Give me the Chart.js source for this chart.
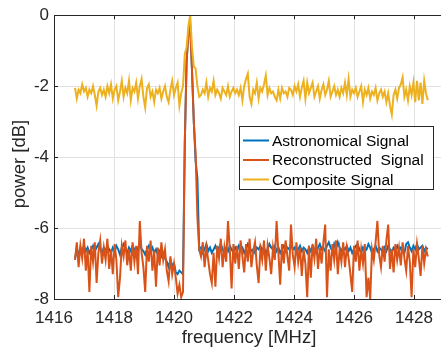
<!DOCTYPE html>
<html>
<head>
<meta charset="utf-8">
<script src="https://cdn.jsdelivr.net/npm/chart.js@4.4.1/dist/chart.umd.min.js"></script>
<style>
html, body { margin: 0; padding: 0; background: #fff; overflow: hidden; }
#wrap { width: 441px; height: 349px; overflow: hidden; }
canvas { display: block; }
</style>
</head>
<body>
<div id="wrap"><canvas id="chart-power" width="446" height="349"></canvas></div>
<script>
// Spectrum data
// -----------------------------------

var frequency = [
    1416.70, 1416.76, 1416.82, 1416.88, 1416.94, 1417.00, 1417.06, 1417.12, 1417.18, 1417.24,
    1417.30, 1417.36, 1417.42, 1417.48, 1417.54, 1417.60, 1417.66, 1417.72, 1417.78, 1417.84,
    1417.90, 1417.96, 1418.02, 1418.08, 1418.14, 1418.20, 1418.26, 1418.32, 1418.38, 1418.44,
    1418.50, 1418.56, 1418.62, 1418.68, 1418.74, 1418.80, 1418.86, 1418.92, 1418.98, 1419.04,
    1419.10, 1419.16, 1419.22, 1419.28, 1419.34, 1419.40, 1419.46, 1419.52, 1419.58, 1419.64,
    1419.70, 1419.76, 1419.82, 1419.88, 1419.94, 1420.00, 1420.06, 1420.12, 1420.18, 1420.24,
    1420.30, 1420.36, 1420.42, 1420.48, 1420.54, 1420.60, 1420.66, 1420.72, 1420.78, 1420.84,
    1420.90, 1420.96, 1421.02, 1421.08, 1421.14, 1421.20, 1421.26, 1421.32, 1421.38, 1421.44,
    1421.50, 1421.56, 1421.62, 1421.68, 1421.74, 1421.80, 1421.86, 1421.92, 1421.98, 1422.04,
    1422.10, 1422.16, 1422.22, 1422.28, 1422.34, 1422.40, 1422.46, 1422.52, 1422.58, 1422.64,
    1422.70, 1422.76, 1422.82, 1422.88, 1422.94, 1423.00, 1423.06, 1423.12, 1423.18, 1423.24,
    1423.30, 1423.36, 1423.42, 1423.48, 1423.54, 1423.60, 1423.66, 1423.72, 1423.78, 1423.84,
    1423.90, 1423.96, 1424.02, 1424.08, 1424.14, 1424.20, 1424.26, 1424.32, 1424.38, 1424.44,
    1424.50, 1424.56, 1424.62, 1424.68, 1424.74, 1424.80, 1424.86, 1424.92, 1424.98, 1425.04,
    1425.10, 1425.16, 1425.22, 1425.28, 1425.34, 1425.40, 1425.46, 1425.52, 1425.58, 1425.64,
    1425.70, 1425.76, 1425.82, 1425.88, 1425.94, 1426.00, 1426.06, 1426.12, 1426.18, 1426.24,
    1426.30, 1426.36, 1426.42, 1426.48, 1426.54, 1426.60, 1426.66, 1426.72, 1426.78, 1426.84,
    1426.90, 1426.96, 1427.02, 1427.08, 1427.14, 1427.20, 1427.26, 1427.32, 1427.38, 1427.44,
    1427.50, 1427.56, 1427.62, 1427.68, 1427.74, 1427.80, 1427.86, 1427.92, 1427.98, 1428.04,
    1428.10, 1428.16, 1428.22, 1428.28, 1428.34, 1428.40, 1428.46
];

var astronomical = [
    -6.85, -6.60, -6.75, -6.55, -6.70, -6.50, -6.65, -6.55, -6.70, -6.60,
    -6.50, -6.65, -6.55, -6.45, -6.60, -6.70, -6.55, -6.65, -6.50, -6.60,
    -6.70, -6.55, -6.65, -6.50, -6.60, -6.75, -6.55, -6.45, -6.60, -6.70,
    -6.55, -6.65, -6.50, -6.60, -6.70, -6.55, -6.45, -6.60, -6.65, -6.75,
    -6.60, -6.50, -6.65, -6.55, -6.70, -6.60, -6.75, -6.65, -6.80, -6.70,
    -6.85, -6.95, -7.10, -6.90, -7.05, -7.00, -7.25, -7.30, -7.20, -7.25,
    -7.30, -3.60, -1.30, -0.50, -0.30, -1.55, -3.00, -4.10, -4.60, -6.60,
    -6.55, -6.70, -6.60, -6.45, -6.65, -6.55, -6.70, -6.60, -6.50, -6.65,
    -6.55, -6.45, -6.60, -6.70, -6.55, -6.65, -6.50, -6.60, -6.70, -6.55,
    -6.65, -6.50, -6.60, -6.55, -6.70, -6.60, -6.45, -6.55, -6.65, -6.60,
    -6.70, -6.55, -6.60, -6.50, -6.65, -6.55, -6.70, -6.60, -6.45, -6.55,
    -6.60, -6.50, -6.65, -6.55, -6.70, -6.60, -6.50, -6.65, -6.55, -6.60,
    -6.45, -6.60, -6.55, -6.70, -6.60, -6.50, -6.65, -6.55, -6.60, -6.70,
    -6.55, -6.65, -6.50, -6.60, -6.70, -6.55, -6.45, -6.60, -6.55, -6.65,
    -6.50, -6.40, -6.55, -6.65, -6.45, -6.60, -6.40, -6.55, -6.65, -6.55,
    -6.60, -6.50, -6.65, -6.55, -6.70, -6.60, -6.50, -6.45, -6.60, -6.70,
    -6.55, -6.65, -6.60, -6.45, -6.55, -6.70, -6.60, -6.50, -6.65, -6.55,
    -6.60, -6.70, -6.55, -6.65, -6.50, -6.60, -6.70, -6.55, -6.60, -6.50,
    -6.65, -6.55, -6.60, -6.70, -6.45, -6.40, -6.55, -6.65, -6.50, -6.60,
    -6.45, -6.60, -6.55, -6.50, -6.65, -6.55, -6.60
];

var reconstructed = [
    -6.90, -6.40, -7.10, -6.50, -6.85, -6.30, -7.20, -6.60, -7.80, -6.50,
    -6.95, -6.40, -7.55, -6.70, -6.35, -7.00, -6.55, -6.90, -6.30, -7.15,
    -6.60, -7.30, -6.45, -6.90, -7.95, -7.40, -6.50, -6.80, -6.35, -7.05,
    -6.60, -7.20, -6.40, -6.95, -6.50, -7.30, -5.80, -6.70, -7.10, -7.80,
    -6.50, -6.95, -6.35, -7.20, -6.65, -7.65, -6.55, -7.05, -6.40, -6.90,
    -6.60, -7.20, -7.50, -6.80, -7.30, -7.00, -7.40, -7.85, -7.60, -7.95,
    -7.80, -3.60, -1.30, -0.50, -0.30, -1.55, -3.00, -3.90, -5.70, -6.60,
    -6.80, -6.40, -7.10, -6.55, -6.90, -7.30, -7.55, -6.70, -7.65, -6.50,
    -6.85, -6.30, -7.10, -6.55, -6.95, -5.80, -6.60, -7.70, -6.45, -7.00,
    -6.50, -7.15, -6.35, -6.80, -7.25, -6.45, -6.95, -6.30, -7.10, -6.65,
    -6.40, -7.05, -7.55, -6.60, -6.90, -6.35, -7.20, -6.50, -6.85, -7.30,
    -6.55, -6.90, -5.80, -6.70, -7.60, -6.45, -7.00, -6.35, -6.80, -7.20,
    -5.90, -6.75, -7.10, -6.40, -6.95, -6.55, -7.35, -6.60, -7.00, -7.95,
    -6.50, -7.40, -6.45, -6.85, -6.30, -7.15, -6.55, -7.00, -6.40, -5.90,
    -7.95, -6.60, -7.20, -6.45, -6.90, -6.35, -7.30, -6.60, -6.95, -6.40,
    -7.10, -6.55, -6.85, -7.30, -7.80, -6.50, -6.95, -6.35, -7.20, -6.60,
    -7.00, -6.45, -7.95, -7.40, -8.00, -6.60, -6.90, -6.40, -5.80, -6.75,
    -7.10, -6.50, -6.95, -6.35, -5.90, -7.15, -6.60, -7.25, -6.45, -6.90,
    -6.55, -7.05, -6.40, -6.85, -7.20, -6.50, -6.95, -7.95, -6.60, -7.10,
    -6.45, -6.85, -7.35, -6.50, -7.00, -6.60, -6.80
];

var composite = [
    -2.05, -2.35, -2.10, -2.20, -1.95, -2.15, -2.05, -2.30, -2.10, -2.20,
    -2.00, -2.25, -2.55, -2.15, -2.05, -2.25, -2.10, -2.30, -2.00, -2.20,
    -1.95, -2.35, -2.10, -2.00, -2.40, -2.15, -1.85, -2.30, -2.05, -2.20,
    -1.85, -2.40, -2.05, -2.15, -1.90, -2.35, -2.00, -1.80, -2.30, -2.60,
    -2.05, -1.95, -2.30, -2.15, -2.45, -2.10, -2.20, -2.05, -2.35, -2.15,
    -2.00, -2.30, -2.45, -2.10, -1.85, -2.25, -2.05, -1.90, -2.55, -2.20,
    -2.00, -1.10, -0.90, -0.30, 0.00, -0.90, -1.45, -1.50, -2.00, -2.30,
    -2.25, -2.10, -2.20, -1.90, -2.30, -2.05, -2.15, -1.85, -2.25, -2.10,
    -2.20, -2.35, -2.05, -2.15, -2.25, -2.00, -2.30, -2.15, -2.05, -2.20,
    -2.10, -2.25, -2.05, -2.40, -2.00, -1.80, -1.65, -2.30, -2.50, -2.10,
    -2.20, -1.90, -2.35, -2.05, -2.15, -1.95, -1.70, -2.25, -2.05, -2.20,
    -2.15, -2.30, -2.40, -2.10, -2.35, -2.05, -2.20, -2.15, -2.30, -2.05,
    -2.10, -2.25, -2.00, -2.15, -1.95, -2.30, -2.05, -1.85, -2.35, -1.90,
    -2.20, -2.05, -1.90, -2.30, -2.15, -2.00, -2.35, -2.10, -1.95, -2.25,
    -2.10, -1.85, -2.30, -2.15, -2.00, -2.25, -2.10, -2.30, -2.05, -2.20,
    -1.90, -2.25, -1.80, -2.30, -2.10, -2.20, -2.05, -2.30, -2.15, -2.00,
    -2.45, -2.10, -2.25, -2.05, -2.35, -2.15, -2.25, -2.05, -2.40, -2.20,
    -2.10, -2.30, -2.15, -2.45, -2.20, -2.55, -2.80, -2.25, -2.10, -2.35,
    -2.05, -1.95, -1.75, -2.30, -2.10, -2.40, -2.00, -2.25, -1.90, -2.45,
    -1.85, -2.40, -1.90, -2.50, -1.85, -2.20, -2.40
];

var seriesNames = ['Astronomical Signal', 'Reconstructed  Signal', 'Composite Signal'];
var seriesColors = ['#0072BD', '#D95319', '#EDB120'];
var xTicks = [1416, 1418, 1420, 1422, 1424, 1426, 1428];
var yTicks = [-8, -6, -4, -2, 0];

var axisColor = '#262626';
var fontFamily = "'Liberation Sans', Arial, Helvetica, sans-serif";

function toPoints(values) {
    return frequency.map(function(f, i) { return { x: f, y: values[i] }; });
}

// Frame, inward ticks, axis titles and legend box (MATLAB look)
// -----------------------------------

var matlabFrame = {
    id: 'matlabFrame',
    afterDraw: function(chart) {
        var ctx = chart.ctx;
        var a = chart.chartArea;
        var xs = chart.scales.x;
        var ys = chart.scales.y;

        ctx.save();
        ctx.strokeStyle = axisColor;
        ctx.lineWidth = 1;
        ctx.beginPath();
        ctx.moveTo(a.left, Math.round(a.top) + 0.5);
        ctx.lineTo(a.right, Math.round(a.top) + 0.5);
        xTicks.forEach(function(v) {
            var px = Math.round(xs.getPixelForValue(v)) + 0.5;
            ctx.moveTo(px, a.bottom);
            ctx.lineTo(px, a.bottom - 4);
            ctx.moveTo(px, a.top);
            ctx.lineTo(px, a.top + 4);
        });
        yTicks.forEach(function(v) {
            var py = Math.round(ys.getPixelForValue(v)) + 0.5;
            ctx.moveTo(a.left, py);
            ctx.lineTo(a.left + 4, py);
        });
        ctx.stroke();

        // axis titles
        ctx.fillStyle = axisColor;
        ctx.font = '18.5px ' + fontFamily;
        ctx.textAlign = 'center';
        ctx.textBaseline = 'middle';
        ctx.fillText('frequency [MHz]', (a.left + a.right) / 2, 338);
        ctx.save();
        ctx.translate(20, 164);
        ctx.rotate(-Math.PI / 2);
        ctx.fillText('power [dB]', 0, 0);
        ctx.restore();

        // legend
        var bx = 239.5, by = 126.5, bw = 194, bh = 63;
        ctx.fillStyle = '#ffffff';
        ctx.fillRect(bx, by, bw, bh);
        ctx.strokeStyle = axisColor;
        ctx.strokeRect(bx, by, bw, bh);
        var rows = [140.5, 160, 179.5];
        ctx.font = '15.5px ' + fontFamily;
        ctx.textAlign = 'left';
        chart.data.datasets.forEach(function(ds, i) {
            ctx.strokeStyle = ds.borderColor;
            ctx.lineWidth = 2;
            ctx.beginPath();
            ctx.moveTo(243, rows[i]);
            ctx.lineTo(269, rows[i]);
            ctx.stroke();
            ctx.fillStyle = '#000000';
            ctx.fillText(ds.label, 272, rows[i] + 1);
        });
        ctx.restore();
    }
};

var ctx = document.getElementById('chart-power').getContext('2d');
var powerChart = new Chart(ctx, {
    type: 'line',
    data: {
        datasets: [{
            label: seriesNames[0],
            data: toPoints(astronomical),
            borderColor: seriesColors[0],
            order: 2
        }, {
            label: seriesNames[1],
            data: toPoints(reconstructed),
            borderColor: seriesColors[1],
            order: 1
        }, {
            label: seriesNames[2],
            data: toPoints(composite),
            borderColor: seriesColors[2],
            order: 0
        }]
    },
    options: {
        responsive: false,
        animation: false,
        layout: { padding: { top: 13, right: 2, left: 0, bottom: 0 } },
        elements: {
            point: { radius: 0 },
            line: { borderWidth: 2, tension: 0, fill: false }
        },
        plugins: {
            legend: { display: false },
            tooltip: { enabled: false }
        },
        scales: {
            x: {
                type: 'linear',
                min: 1416,
                max: 1429,
                afterFit: function(s) { s.height = 50; },
                afterBuildTicks: function(s) { s.ticks = xTicks.map(function(v) { return { value: v }; }); },
                grid: { color: '#e2e2e2', drawTicks: false },
                border: { color: axisColor, width: 1 },
                ticks: {
                    color: axisColor,
                    font: { family: fontFamily, size: 17 },
                    padding: 9,
                    maxRotation: 0,
                    autoSkip: false,
                    callback: function(v) { return String(v); }
                }
            },
            y: {
                min: -8,
                max: 0,
                afterFit: function(s) { s.width = 54; },
                afterBuildTicks: function(s) { s.ticks = yTicks.map(function(v) { return { value: v }; }); },
                grid: { color: '#e2e2e2', drawTicks: false },
                border: { color: axisColor, width: 1 },
                ticks: {
                    color: axisColor,
                    font: { family: fontFamily, size: 17 },
                    padding: 5,
                    callback: function(v) { return String(v); }
                }
            }
        }
    },
    plugins: [matlabFrame]
});
</script>
</body>
</html>
